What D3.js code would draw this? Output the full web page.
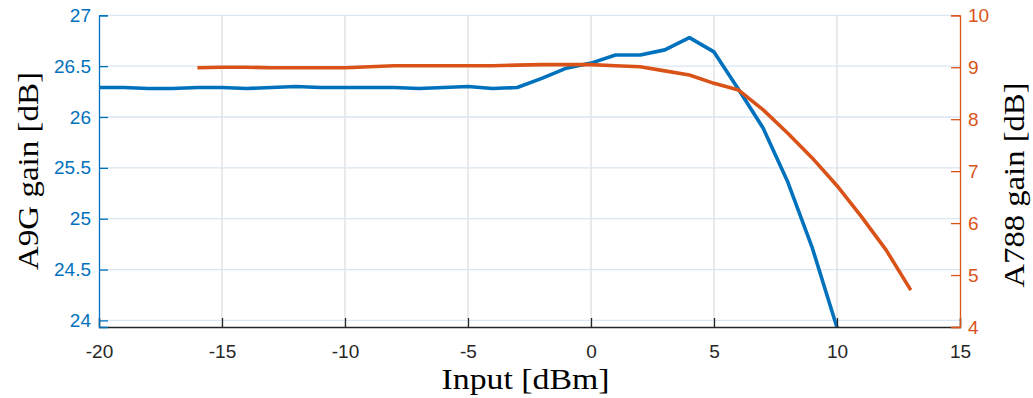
<!DOCTYPE html>
<html>
<head>
<meta charset="utf-8">
<script src="https://cdn.jsdelivr.net/npm/d3@7"></script>
<style>
  body { margin: 0; background: #fff; }
  svg { display: block; }
  .tick text { font-family: "Liberation Sans", Arial, sans-serif; }
  .lbl { font-family: "Liberation Serif", "Times New Roman", serif; }
</style>
</head>
<body>
<svg></svg>
<script>
// A9G amplifier: input power (dBm) vs gain (dB), left axis
const a9gInput = [-20, -19, -18, -17, -16, -15, -14, -13, -12, -11, -10, -9, -8, -7, -6, -5, -4, -3, -2, -1, 0, 1, 2, 3, 4, 5, 6, 7, 8, 9, 10];
const a9gGain = [26.29, 26.29, 26.28, 26.28, 26.29, 26.29, 26.28, 26.29, 26.30, 26.29, 26.29, 26.29, 26.29, 26.28, 26.29, 26.30, 26.28, 26.29, 26.38, 26.48, 26.53, 26.61, 26.61, 26.66, 26.78, 26.64, 26.27, 25.89, 25.36, 24.71, 23.93];

// A788 amplifier: input power (dBm) vs gain (dB), right axis
const a788Input = [-16, -15, -14, -13, -12, -11, -10, -9, -8, -7, -6, -5, -4, -3, -2, -1, 0, 1, 2, 3, 4, 5, 6, 7, 8, 9, 10, 11, 12, 13];
const a788Gain = [8.99, 9.00, 9.00, 8.99, 8.99, 8.99, 8.99, 9.01, 9.03, 9.03, 9.03, 9.03, 9.03, 9.04, 9.05, 9.05, 9.05, 9.03, 9.01, 8.93, 8.85, 8.69, 8.56, 8.18, 7.73, 7.25, 6.72, 6.12, 5.48, 4.71];

const xTicks = [-20, -15, -10, -5, 0, 5, 10, 15];
const leftTicks = [24, 24.5, 25, 25.5, 26, 26.5, 27];
const rightTicks = [4, 5, 6, 7, 8, 9, 10];

const blue = "#0072BD";
const orange = "#D95319";

const svg = d3.select("svg");
svg.attr("width", 1033).attr("height", 398);
const margin = { top: 15.3, right: 73, bottom: 71, left: 99 };
const width = 1033 - margin.left - margin.right;
const height = 398 - margin.top - margin.bottom;

const g = svg.append("g").attr("transform", `translate(${margin.left},${margin.top})`);

const x = d3.scaleLinear().domain([-20, 15]).range([0, width]);
const yL = d3.scaleLinear().domain([27 - height / 101.7, 27]).range([height, 0]);
const yR = d3.scaleLinear().domain([4, 10]).range([height, 0]);

// grid
g.append("g").selectAll("line")
  .data(xTicks.slice(1, -1))
  .enter().append("line")
  .attr("x1", d => x(d)).attr("x2", d => x(d))
  .attr("y1", 0).attr("y2", height)
  .attr("stroke", "#dfdfdf").attr("stroke-width", 1.3);

g.append("g").selectAll("line")
  .data(leftTicks)
  .enter().append("line")
  .attr("x1", 0).attr("x2", width)
  .attr("y1", d => yL(d)).attr("y2", d => yL(d))
  .attr("stroke", "#dae6f1").attr("stroke-width", 1.3);

svg.append("defs").append("clipPath").attr("id", "clip")
  .append("rect").attr("width", width).attr("height", height);

const plot = g.append("g").attr("clip-path", "url(#clip)");

const lineL = d3.line().x((d, i) => x(a9gInput[i])).y(d => yL(d));
const lineR = d3.line().x((d, i) => x(a788Input[i])).y(d => yR(d));

plot.append("path").datum(a9gGain)
  .attr("d", lineL)
  .attr("fill", "none").attr("stroke", blue)
  .attr("stroke-width", 3.6).attr("stroke-linejoin", "round");

plot.append("path").datum(a788Gain)
  .attr("d", lineR)
  .attr("fill", "none").attr("stroke", orange)
  .attr("stroke-width", 3.6).attr("stroke-linejoin", "round");

// axes (plain hyphen for negatives, like the original)
const tickLen = 9;
const fmt = d => String(d);
const xAxis = g.append("g").attr("transform", `translate(0,${height})`)
  .call(d3.axisBottom(x).tickValues(xTicks).tickSize(-tickLen).tickPadding(tickLen + 9).tickFormat(fmt));
xAxis.select(".domain").attr("stroke", "#262626").attr("stroke-width", 1.3);
xAxis.selectAll(".tick line").attr("stroke", "#262626").attr("stroke-width", 1.3);
xAxis.selectAll(".tick text").attr("fill", "#262626").style("font-size", "19px");

const yAxisL = g.append("g")
  .call(d3.axisLeft(yL).tickValues(leftTicks).tickSize(-tickLen).tickPadding(8).tickFormat(fmt));
yAxisL.select(".domain").attr("stroke", blue).attr("stroke-width", 1.3);
yAxisL.selectAll(".tick line").attr("stroke", blue).attr("stroke-width", 1.3);
yAxisL.selectAll(".tick text").attr("fill", blue).style("font-size", "19px");

const yAxisR = g.append("g").attr("transform", `translate(${width},0)`)
  .call(d3.axisRight(yR).tickValues(rightTicks).tickSize(-tickLen).tickPadding(8).tickFormat(fmt));
yAxisR.select(".domain").attr("stroke", orange).attr("stroke-width", 1.3);
yAxisR.selectAll(".tick line").attr("stroke", orange).attr("stroke-width", 1.3);
yAxisR.selectAll(".tick text").attr("fill", orange).style("font-size", "19px");

// labels
svg.append("text")
  .attr("class", "lbl")
  .attr("x", margin.left + width / 2 - 4)
  .attr("y", 389)
  .attr("text-anchor", "middle")
  .attr("textLength", 168)
  .attr("lengthAdjust", "spacingAndGlyphs")
  .style("font-size", "30px")
  .attr("fill", "#000")
  .text("Input [dBm]");

svg.append("text")
  .attr("class", "lbl")
  .attr("transform", `translate(38, ${171}) rotate(-90)`)
  .attr("text-anchor", "middle")
  .attr("textLength", 198)
  .attr("lengthAdjust", "spacingAndGlyphs")
  .style("font-size", "30px")
  .attr("fill", "#000")
  .text("A9G gain [dB]");

svg.append("text")
  .attr("class", "lbl")
  .attr("transform", `translate(1024, ${185}) rotate(-90)`)
  .attr("text-anchor", "middle")
  .attr("textLength", 205)
  .attr("lengthAdjust", "spacingAndGlyphs")
  .style("font-size", "30px")
  .attr("fill", "#000")
  .text("A788 gain [dB]");
</script>
</body>
</html>
